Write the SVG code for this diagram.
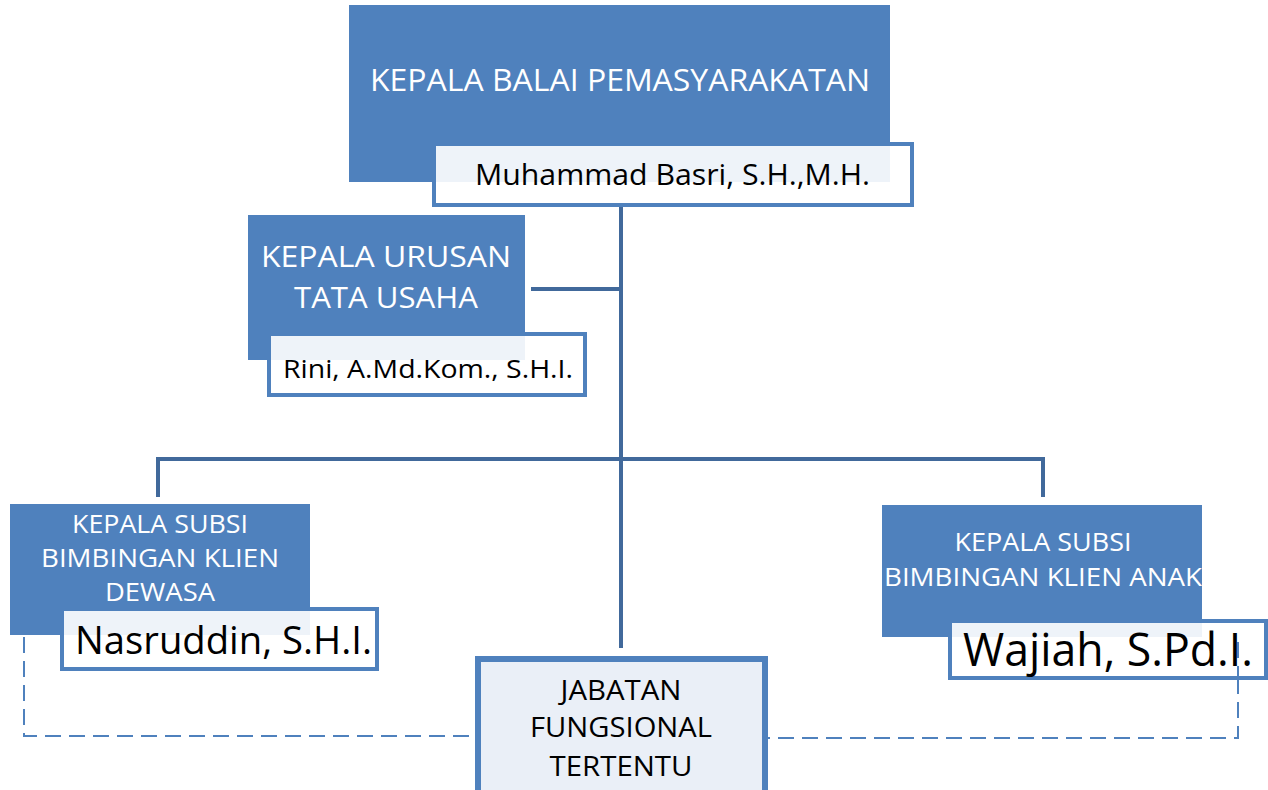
<svg xmlns="http://www.w3.org/2000/svg" width="1268" height="790" viewBox="0 0 1268 790">
<style>
.blue{fill:#4F81BD;}
.namebox{fill:#FFFFFF;fill-opacity:0.9;stroke:#4F81BD;stroke-width:4;}
.wt{font-family:"Open Sans","Liberation Sans",sans-serif;fill:#FFFFFF;text-anchor:middle;}
.bk{font-family:"Open Sans","Liberation Sans",sans-serif;fill:#000000;}
.conn{stroke:#41699B;stroke-width:4;fill:none;}
.dash{stroke:#4F81BD;stroke-width:2;fill:none;stroke-dasharray:16 8;}
</style>
<rect width="1268" height="790" fill="#FFFFFF"/>
<g id="connectors">
<path class="conn" d="M621 206 V648"/>
<path class="conn" d="M531 289 H621"/>
<path class="conn" d="M158 497 V459 H1043 V497"/>
<path class="dash" d="M24 637 V736 H476"/>
<path class="dash" d="M1238 678 V738 H768"/>
</g>
<g id="kepala-balai">
<rect class="blue" x="349" y="5" width="541" height="177"/>
<text class="wt" x="620" y="91" font-size="31" textLength="500" lengthAdjust="spacingAndGlyphs">KEPALA BALAI PEMASYARAKATAN</text>
<rect class="namebox" x="434" y="144" width="478" height="61"/>
<text class="bk" x="475" y="185" font-size="29" textLength="395" lengthAdjust="spacingAndGlyphs">Muhammad Basri, S.H.,M.H.</text>
</g>
<g id="kepala-urusan">
<rect class="blue" x="248" y="215" width="277" height="145"/>
<text class="wt" x="386" y="267" font-size="30" textLength="250" lengthAdjust="spacingAndGlyphs">KEPALA URUSAN</text>
<text class="wt" x="386" y="308" font-size="30" textLength="184" lengthAdjust="spacingAndGlyphs">TATA USAHA</text>
<rect class="namebox" x="269" y="334" width="316" height="61"/>
<text class="bk" x="283" y="378" font-size="25" textLength="290" lengthAdjust="spacingAndGlyphs">Rini, A.Md.Kom., S.H.I.</text>
</g>
<g id="subsi-dewasa">
<rect class="blue" x="10" y="504" width="300" height="131"/>
<text class="wt" x="160" y="533" font-size="25" textLength="176" lengthAdjust="spacingAndGlyphs">KEPALA SUBSI</text>
<text class="wt" x="160" y="567" font-size="25" textLength="238" lengthAdjust="spacingAndGlyphs">BIMBINGAN KLIEN</text>
<text class="wt" x="160" y="601" font-size="25" textLength="110" lengthAdjust="spacingAndGlyphs">DEWASA</text>
<rect class="namebox" x="62" y="609" width="315" height="60"/>
<text class="bk" x="75" y="654" font-size="38" textLength="297" lengthAdjust="spacingAndGlyphs">Nasruddin, S.H.I.</text>
</g>
<g id="subsi-anak">
<rect class="blue" x="882" y="505" width="320" height="132"/>
<text class="wt" x="1043" y="551" font-size="25" textLength="177" lengthAdjust="spacingAndGlyphs">KEPALA SUBSI</text>
<text class="wt" x="1043" y="586" font-size="25" textLength="318" lengthAdjust="spacingAndGlyphs">BIMBINGAN KLIEN ANAK</text>
<rect class="namebox" x="950" y="621" width="316" height="57"/>
<text class="bk" x="963" y="666" font-size="46" textLength="290" lengthAdjust="spacingAndGlyphs">Wajiah, S.Pd.I.</text>
<path class="dash" d="M1238 642 V678"/>
</g>
<g id="jabatan-fungsional">
<rect x="478" y="659" width="287" height="135" fill="#EAEFF7" stroke="#4F81BD" stroke-width="6"/>
<text class="bk" x="621" y="700" font-size="28" text-anchor="middle" textLength="121" lengthAdjust="spacingAndGlyphs">JABATAN</text>
<text class="bk" x="621" y="737" font-size="28" text-anchor="middle" textLength="182" lengthAdjust="spacingAndGlyphs">FUNGSIONAL</text>
<text class="bk" x="621" y="776" font-size="28" text-anchor="middle" textLength="143" lengthAdjust="spacingAndGlyphs">TERTENTU</text>
</g>
</svg>
